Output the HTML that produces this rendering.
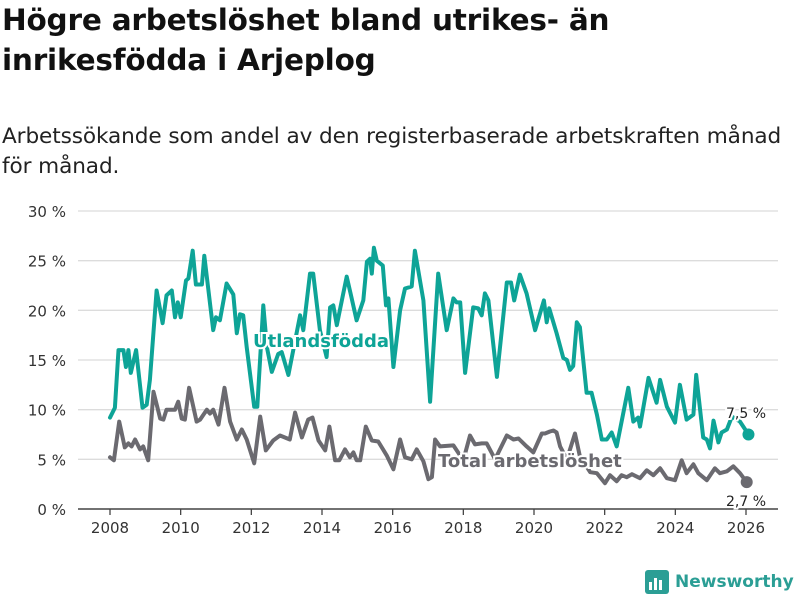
<!DOCTYPE html>
<html><head><meta charset="utf-8">
<style>
body{margin:0;width:800px;height:600px;background:#fff;overflow:hidden;font-family:"DejaVu Sans","Liberation Sans",sans-serif;}
h1{position:absolute;left:2px;top:0px;margin:0;font-size:29.5px;line-height:40px;font-weight:bold;color:#111;letter-spacing:-0.2px;}
p.sub{position:absolute;left:2px;top:122px;margin:0;font-size:21.6px;line-height:30px;color:#222;letter-spacing:-0.1px;}
</style></head><body>
<h1>Högre arbetslöshet bland utrikes- än<br>inrikesfödda i Arjeplog</h1>
<p class="sub">Arbetssökande som andel av den registerbaserade arbetskraften månad<br>för månad.</p>
<svg id="chart" width="800" height="600" style="position:absolute;left:0;top:0" xmlns="http://www.w3.org/2000/svg"></svg>
<script>
const yTicks=[0,5,10,15,20,25,30];
const yTickLabels=["0 %","5 %","10 %","15 %","20 %","25 %","30 %"];
const xTicks=[2008,2010,2012,2014,2016,2018,2020,2022,2024,2026];
const foreignDates=[2008.00,2008.14,2008.24,2008.38,2008.45,2008.52,2008.59,2008.74,2008.92,2009.04,2009.13,2009.32,2009.49,2009.60,2009.75,2009.84,2009.92,2010.00,2010.15,2010.22,2010.34,2010.43,2010.60,2010.67,2010.92,2011.00,2011.11,2011.30,2011.49,2011.59,2011.68,2011.77,2011.87,2012.08,2012.17,2012.34,2012.44,2012.58,2012.76,2012.86,2013.05,2013.38,2013.47,2013.66,2013.75,2013.94,2014.13,2014.23,2014.32,2014.42,2014.70,2014.84,2014.98,2015.17,2015.27,2015.36,2015.41,2015.47,2015.55,2015.72,2015.81,2015.88,2016.02,2016.21,2016.35,2016.54,2016.63,2016.87,2017.06,2017.29,2017.53,2017.72,2017.81,2017.91,2018.05,2018.28,2018.42,2018.52,2018.61,2018.71,2018.95,2019.23,2019.35,2019.44,2019.60,2019.79,2020.03,2020.28,2020.36,2020.43,2020.64,2020.83,2020.93,2021.02,2021.11,2021.21,2021.30,2021.49,2021.63,2021.78,2021.92,2022.06,2022.20,2022.34,2022.67,2022.81,2022.95,2023.00,2023.24,2023.47,2023.57,2023.76,2023.99,2024.13,2024.32,2024.51,2024.59,2024.79,2024.89,2024.98,2025.08,2025.22,2025.31,2025.46,2025.60,2025.83,2026.07];
const foreignValues=[9.2,10.2,16,16,14.3,16,13.7,16,10.2,10.5,13,22,18.7,21.5,22,19.3,20.8,19.3,23,23.2,26,22.6,22.6,25.5,18,19.3,19,22.7,21.6,17.7,19.6,19.5,16.3,10.3,10.3,20.5,16.3,13.8,15.6,15.8,13.5,19.5,18,23.7,23.7,18,15.3,20.3,20.5,18.5,23.4,21.2,19,21,24.9,25.2,23.7,26.3,25,24.5,20.5,21.2,14.3,20,22.2,22.4,26,21,10.8,23.7,18,21.2,20.8,20.8,13.7,20.3,20.2,19.5,21.7,21,13.3,22.8,22.8,21,23.6,21.7,18,21,18.8,20.2,17.7,15.2,15,14,14.4,18.8,18.3,11.7,11.7,9.5,7,7,7.7,6.3,12.2,8.8,9.2,8.3,13.2,10.7,13,10.3,8.7,12.5,9,9.5,13.5,7.2,7,6.1,8.9,6.7,7.7,8,9.3,8.8,7.5];
const totalDates=[2008.00,2008.11,2008.26,2008.42,2008.52,2008.61,2008.71,2008.85,2008.94,2009.08,2009.23,2009.42,2009.51,2009.60,2009.75,2009.84,2009.93,2010.03,2010.12,2010.24,2010.45,2010.55,2010.74,2010.83,2010.92,2011.07,2011.24,2011.40,2011.59,2011.73,2011.87,2012.08,2012.25,2012.41,2012.62,2012.81,2012.95,2013.09,2013.24,2013.43,2013.61,2013.73,2013.90,2014.09,2014.21,2014.37,2014.49,2014.65,2014.79,2014.89,2014.98,2015.08,2015.24,2015.41,2015.59,2015.83,2016.02,2016.21,2016.35,2016.54,2016.68,2016.87,2017.01,2017.11,2017.20,2017.34,2017.72,2018.00,2018.19,2018.33,2018.52,2018.66,2018.90,2019.23,2019.42,2019.56,2019.79,2019.98,2020.22,2020.31,2020.45,2020.55,2020.64,2020.74,2020.93,2021.16,2021.30,2021.59,2021.78,2022.01,2022.15,2022.34,2022.48,2022.62,2022.77,2023.00,2023.19,2023.38,2023.57,2023.76,2023.99,2024.18,2024.32,2024.51,2024.65,2024.89,2025.12,2025.26,2025.46,2025.64,2025.83,2026.02];
const totalValues=[5.2,4.9,8.8,6.2,6.6,6.3,7,6,6.3,4.9,11.8,9.1,9,10,10,10,10.8,9.1,9,12.2,8.8,9,10,9.6,10,8.5,12.2,8.8,7,8,7,4.6,9.3,5.9,6.9,7.4,7.2,7,9.7,7.2,9,9.2,6.9,5.9,8.3,4.9,4.9,6,5.2,5.7,4.9,4.9,8.3,6.9,6.8,5.4,4,7,5.2,5,6,4.8,3,3.2,7,6.3,6.4,4.9,7.4,6.5,6.6,6.6,5,7.4,7,7.1,6.3,5.7,7.6,7.6,7.8,7.9,7.7,6.3,5,7.6,5.3,3.7,3.6,2.6,3.4,2.8,3.4,3.2,3.5,3.1,3.9,3.4,4.1,3.1,2.9,4.9,3.6,4.5,3.6,2.9,4.1,3.6,3.8,4.3,3.6,2.7];

const svg=document.getElementById('chart');
const NS='http://www.w3.org/2000/svg';
const X=t=>110+(t-2008)*(636/18);
const Y=v=>509-v*(298/30);
function mk(tag,attrs,parent){const e=document.createElementNS(NS,tag);for(const k in attrs)e.setAttribute(k,attrs[k]);(parent||svg).appendChild(e);return e;}

yTicks.forEach((v,i)=>{
  if(v>0){const g=mk('line',{x1:78,x2:778,y1:Y(v),y2:Y(v),stroke:'#dcdcdc','stroke-width':1.3});
  
  }
  const t=mk('text',{x:66,y:Y(v)+6,'text-anchor':'end','font-size':15,fill:'#333','font-family':'DejaVu Sans, Liberation Sans, sans-serif'});
  t.textContent=yTickLabels[i];
  
  
});
const ax=mk('line',{x1:78,x2:778,y1:509,y2:509,stroke:'#444','stroke-width':1.5});


xTicks.forEach(yr=>{
  const tk=mk('line',{x1:X(yr),x2:X(yr),y1:509,y2:515,stroke:'#444','stroke-width':1.3});
  
  
  const t=mk('text',{x:X(yr),y:533,'text-anchor':'middle','font-size':15,fill:'#333','font-family':'DejaVu Sans, Liberation Sans, sans-serif'});
  t.textContent=String(yr);
  
  
});
function series(dates,vals,color,name){
  const d=dates.map((t,i)=>(i?'L':'M')+X(t).toFixed(1)+','+Y(vals[i]).toFixed(1)).join(' ');
  const p=mk('path',{d:d,fill:'none',stroke:color,'stroke-width':4,'stroke-linejoin':'round','stroke-linecap':'round'});
  
  
  const n=dates.length-1;
  const c=mk('circle',{cx:X(dates[n]),cy:Y(vals[n]),r:6,fill:color});
  
  
}
series(totalDates,totalValues,'#6b6a70','total');
series(foreignDates,foreignValues,'#0ea497','foreign');
function label(x,y,txt,color,size,weight,anchor,name){
  const t=mk('text',{x:x,y:y,'font-size':size,'font-weight':weight,fill:color,'text-anchor':anchor,stroke:'#fff','stroke-width':4,'paint-order':'stroke','font-family':'DejaVu Sans, Liberation Sans, sans-serif'});
  t.textContent=txt;
  
  
}
label(253,347,'Utlandsfödda','#0ea497',18,'bold','start','foreign-series-label');
label(438,467,'Total arbetslöshet','#6b6a70',18,'bold','start','total-series-label');
label(746,418,'7,5 %','#222',14,'normal','middle','foreign-end-value');
label(746,506,'2,7 %','#222',14,'normal','middle','total-end-value');
</script>
<div style="position:absolute;left:645px;top:570px;display:flex;align-items:center;">
 <svg width="24" height="24" viewBox="0 0 24 24"><rect x="0" y="0" width="24" height="24" rx="3" fill="#2b9e95"/><rect x="4" y="12" width="3" height="8" fill="#fff"/><rect x="9" y="8" width="3" height="12" fill="#fff"/><rect x="14" y="10" width="3" height="10" fill="#fff"/></svg>
 <span style="margin-left:6px;font-size:17px;font-weight:bold;color:#2b9e95;">Newsworthy</span>
</div>
</body></html>
